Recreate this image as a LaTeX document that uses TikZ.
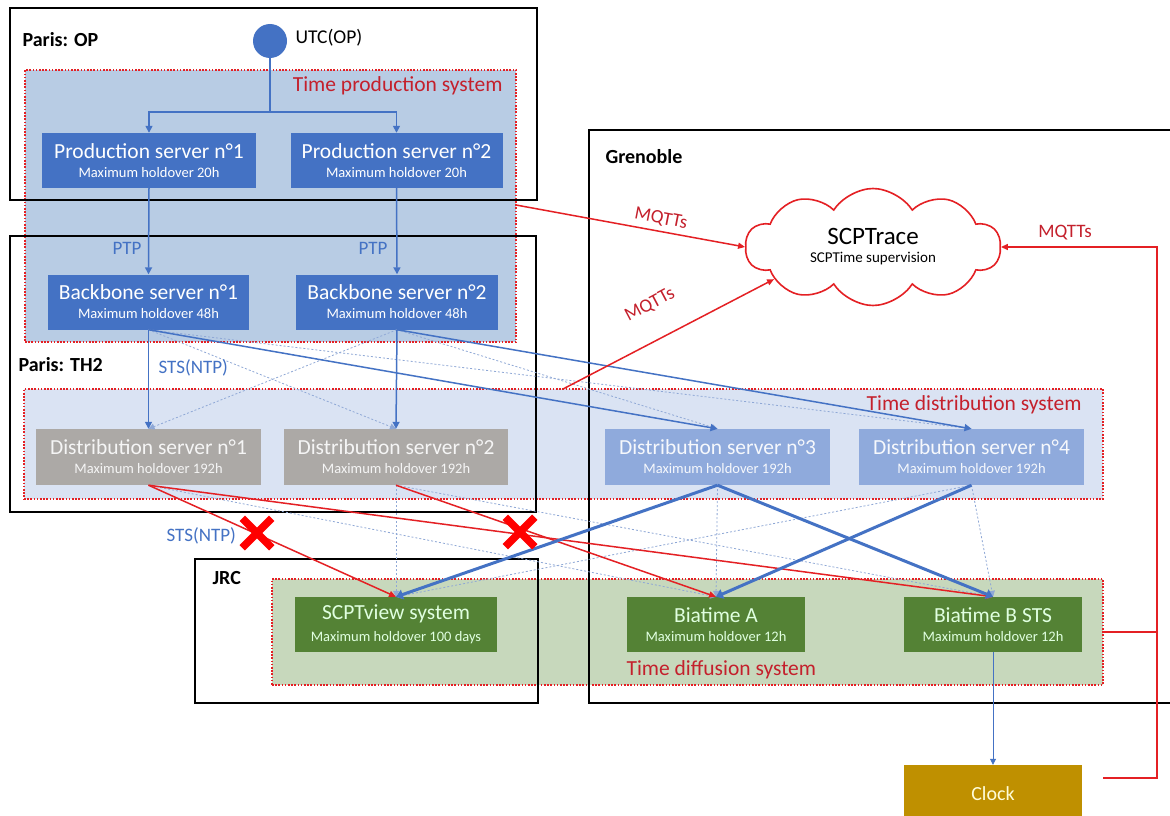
\documentclass[tikz,border=0pt]{standalone}
\usepackage{fontspec}
\setmainfont{Carlito}
\usetikzlibrary{shapes.symbols,shapes.misc,arrows.meta,calc}

\definecolor{servblue}{RGB}{68,114,196}
\definecolor{prodfill}{RGB}{184,204,228}
\definecolor{distfill}{RGB}{218,227,243}
\definecolor{difffill}{RGB}{199,216,188}
\definecolor{servgray}{RGB}{172,169,166}
\definecolor{servlight}{RGB}{143,170,220}
\definecolor{servgreen}{RGB}{84,130,53}
\definecolor{clockfill}{RGB}{191,144,0}
\definecolor{linered}{RGB}{228,32,36}
\definecolor{textred}{RGB}{196,32,44}
\definecolor{dashblue}{RGB}{143,168,214}
\definecolor{textblue}{RGB}{68,114,196}

\newcommand{\ttl}{\fontsize{21.5}{24}\selectfont}
\newcommand{\sbt}{\fontsize{14.5}{16}\selectfont}
% two-line server caption: title, then holdover line
\newcommand{\srvtext}[2]{{\ttl #1}\\[7pt]{\sbt #2}}

\begin{document}
\begin{tikzpicture}[x=1pt,y=-1pt,
  srv/.style={rectangle, inner sep=0pt, align=center, minimum height=55pt},
  sysbox/.style={draw=linered, line width=1.6pt, dash pattern=on 1.6pt off 1.6pt},
  site/.style={draw=black, line width=2pt},
  sitelbl/.style={anchor=west, font=\fontsize{20}{22}\selectfont\bfseries},
  syslbl/.style={text=textred, font=\fontsize{21.5}{24}\selectfont},
  protlbl/.style={text=textblue, font=\fontsize{19}{21}\selectfont},
  mqlbl/.style={text=textred, font=\fontsize{19}{21}\selectfont},
  bl/.style={draw=servblue, line width=1.5pt, -{Triangle[length=7pt,width=7pt]}},
  blthick/.style={draw=servblue, line width=3pt, -{Triangle[length=7pt,width=10pt]}},
  bldash/.style={draw=dashblue, line width=0.8pt, dash pattern=on 2pt off 2pt, -{Triangle[length=6pt,width=6pt]}},
  rd/.style={draw=linered, line width=1.5pt, -{Triangle[length=7pt,width=6pt]}},
  mq/.style={draw=linered, line width=1.5pt},
  xmark/.style={cross out, draw=red, line width=7.5pt, minimum size=22pt, inner sep=0pt}
]
\clip (0,0) rectangle (1170,816);
\fill[white] (0,0) rectangle (1170,816);

% system areas (filled, dotted red outline)
\node[sysbox, fill=prodfill, rectangle, inner sep=0pt, minimum width=491pt, minimum height=272pt] (prodsys) at (270.5,206) {};
\node[sysbox, fill=distfill, rectangle, inner sep=0pt, minimum width=1079pt, minimum height=110pt] (distsys) at (563.5,444) {};
\node[sysbox, fill=difffill, rectangle, inner sep=0pt, minimum width=831pt, minimum height=106pt] (diffsys) at (687.5,632) {};

\node[syslbl, anchor=east] (prodlbl) at (506,86) {Time production system};
\node[syslbl, anchor=east] (distlbl) at (1085,405) {Time distribution system};
\node[syslbl, anchor=west] (difflbl) at (623,670) {Time diffusion system};

% sites
\draw[site] (10,8) rectangle (537,200);
\draw[site] (10,236) rectangle (536,512);
\draw[site] (195,559) rectangle (538,703);
\draw[site] (589,130) rectangle (1185,703);
\node[sitelbl] (op) at (19,40) {Paris: OP};
\node[sitelbl] (th2) at (15,365) {Paris: TH2};
\node[sitelbl] (jrc) at (209,578) {JRC};
\node[sitelbl] (gre) at (602,157) {Grenoble};

% reference clock
\node[circle, fill=servblue, minimum size=34pt, inner sep=0pt] (utc) at (270,41) {};
\node[anchor=west, font=\fontsize{19.5}{21}\selectfont] (utclbl) at (292,38) {UTC(OP)};

% servers
\node[srv, fill=servblue, text=white, minimum width=214pt] (p1) at (149,160.5) {\srvtext{Production server n°1}{Maximum holdover 20h}};
\node[srv, fill=servblue, text=white, minimum width=212pt] (p2) at (396.5,160.5) {\srvtext{Production server n°2}{Maximum holdover 20h}};
\node[srv, fill=servblue, text=white, minimum width=201pt] (b1) at (148.5,302) {\srvtext{Backbone server n°1}{Maximum holdover 48h}};
\node[srv, fill=servblue, text=white, minimum width=202pt] (b2) at (397,302) {\srvtext{Backbone server n°2}{Maximum holdover 48h}};
\node[srv, fill=servgray, text=white!92!gray, minimum width=225pt, minimum height=56pt] (d1) at (148.5,457) {\srvtext{Distribution server n°1}{Maximum holdover 192h}};
\node[srv, fill=servgray, text=white!92!gray, minimum width=224pt, minimum height=56pt] (d2) at (396,457) {\srvtext{Distribution server n°2}{Maximum holdover 192h}};
\node[srv, fill=servlight, text=white!92!servlight, minimum width=225pt, minimum height=56pt] (d3) at (717.5,457) {\srvtext{Distribution server n°3}{Maximum holdover 192h}};
\node[srv, fill=servlight, text=white!92!servlight, minimum width=225pt, minimum height=56pt] (d4) at (971.5,457) {\srvtext{Distribution server n°4}{Maximum holdover 192h}};
\node[srv, fill=servgreen, text=white!88!green, minimum width=202pt] (sv) at (396,624.5) {\srvtext{SCPTview system}{Maximum holdover 100 days}};
\node[srv, fill=servgreen, text=white!88!green, minimum width=178pt] (ba) at (716,624.5) {\srvtext{Biatime A}{Maximum holdover 12h}};
\node[srv, fill=servgreen, text=white!88!green, minimum width=178pt] (bb) at (993,624.5) {\srvtext{Biatime B STS}{Maximum holdover 12h}};
\node[srv, fill=clockfill, text=white!85!yellow, minimum width=178pt, minimum height=57pt] (clk) at (993,793.5) {\fontsize{20}{22}\selectfont Clock};

% supervision cloud
\node[cloud, cloud puffs=10, cloud puff arc=115, cloud ignores aspect, draw=linered, line width=1.6pt, fill=white,
      minimum width=255pt, minimum height=117pt, align=center, inner sep=0pt] (scp) at (873,247)
      {{\fontsize{25}{28}\selectfont SCPTrace}\\[6pt]{\fontsize{15}{17}\selectfont SCPTime supervision}};

% production chain
\coordinate (split) at (270,112);
\draw[draw=servblue, line width=1.5pt] (utc.south) -- (split);
\draw[bl] (split) -| (p1.north);
\draw[bl] (split) -| (p2.north);
\draw[bl] (p1.south) -- (b1.north);
\draw[bl] (p2.south) -- (b2.north);
\node[protlbl] (ptp1) at (127,248) {PTP};
\node[protlbl] (ptp2) at (373,248) {PTP};

% backbone to distribution
\draw[bldash] (b1.south) -- (d2.north);
\draw[bldash] (b2.south) -- (d1.north);
\draw[bldash] (b1.south) -- (d4.north);
\draw[bldash] (b2.south) -- (d3.north);
\draw[bl] (b1.south) -- (d1.north);
\draw[bl] (b2.south) -- (d2.north);
\draw[bl] (b1.south) -- (d3.north);
\draw[bl] (b2.south) -- (d4.north);
\node[protlbl, anchor=west] (sts1) at (155,368) {STS(NTP)};

% distribution to diffusion
\draw[bldash] (d1.south) -- (ba.north);
\draw[bldash] (d2.south) -- (sv.north);
\draw[bldash] (d2.south) -- (bb.north);
\draw[bldash] (d3.south) -- (ba.north);
\draw[bldash] (d4.south) -- (sv.north);
\draw[bldash] (d4.south) -- (bb.north);
\draw[rd] (d1.south) -- (sv.north);
\draw[rd] (d1.south) -- (bb.north);
\draw[rd] (d2.south) -- (ba.north);
\draw[blthick] (d3.south) -- (sv.north);
\draw[blthick] (d3.south) -- (bb.north);
\draw[blthick] (d4.south) -- (ba.north);
\node[protlbl, anchor=west] (sts2) at (163,536) {STS(NTP)};
\node[xmark] (x1) at (257,533) {};
\node[xmark] (x2) at (520,532) {};

% clock feed
\draw[draw=servblue, line width=0.8pt, -{Triangle[length=6pt,width=6pt]}] (bb.south) -- (clk.north);

% supervision links
\coordinate (mq1) at (516,205);
\coordinate (mq2) at (563,389);
\coordinate (clkout) at (1103,778);
\coordinate (bustop) at (1157,247);
\coordinate (busbot) at (1157,778);
\draw[rd] (mq1) -- (scp.west);
\draw[rd] (mq2) -- (scp.198);
\draw[mq] (diffsys.east) -- (diffsys.east -| bustop);
\draw[rd] (clkout) -- (busbot) -- (bustop) -- (scp.east);
\node[mqlbl, rotate=-11] (mqt1) at (661,219) {MQTTs};
\node[mqlbl, rotate=28] (mqt2) at (650,305) {MQTTs};
\node[mqlbl] (mqt3) at (1065,233) {MQTTs};
\end{tikzpicture}
\end{document}
